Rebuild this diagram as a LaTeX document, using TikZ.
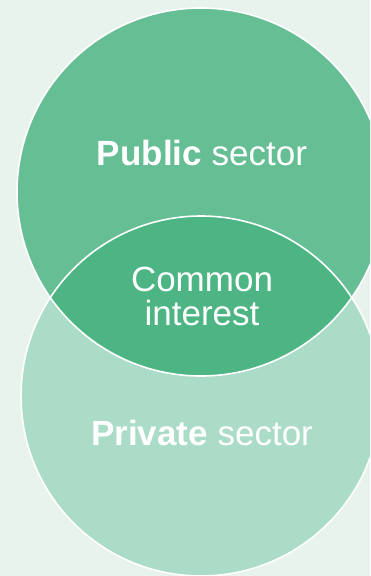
\documentclass[tikz,border=0pt]{standalone}
\usepackage{fontspec}
\setmainfont{Liberation Sans}
\definecolor{bgc}{HTML}{E7F3EC}
\definecolor{topc}{HTML}{66BE95}
\definecolor{lensc}{HTML}{4DB584}
\definecolor{botc}{HTML}{ABDCC7}
\tikzset{
  lbl/.style={text=white, anchor=base, inner sep=0pt, font=\fontsize{35}{35}\selectfont},
  ring/.style={draw=white, line width=1.6pt}
}
\begin{document}
\begin{tikzpicture}[x=1pt,y=-1pt]
\useasboundingbox (0,0) rectangle (370,576);
\fill[bgc] (0,0) rectangle (370,576);
\begin{scope}
\clip (0,0) rectangle (370,576);
\coordinate (ctop) at (201,192);
\coordinate (cbot) at (201,396);
\fill[botc] (cbot) circle (180pt);
\fill[topc] (ctop) circle (184pt);
\begin{scope}
\clip (ctop) circle (184pt);
\fill[lensc] (cbot) circle (180pt);
\end{scope}
\draw[ring] (cbot) circle (180pt);
\draw[ring] (ctop) circle (184pt);
\end{scope}
\node[lbl] (pub) at (202,165) {\textbf{Public} sector};
\node[lbl] (com) at (202,291) {Common};
\node[lbl] (int) at (202,325) {interest};
\node[lbl] (pri) at (202,445) {\textbf{Private} sector};
\end{tikzpicture}
\end{document}
